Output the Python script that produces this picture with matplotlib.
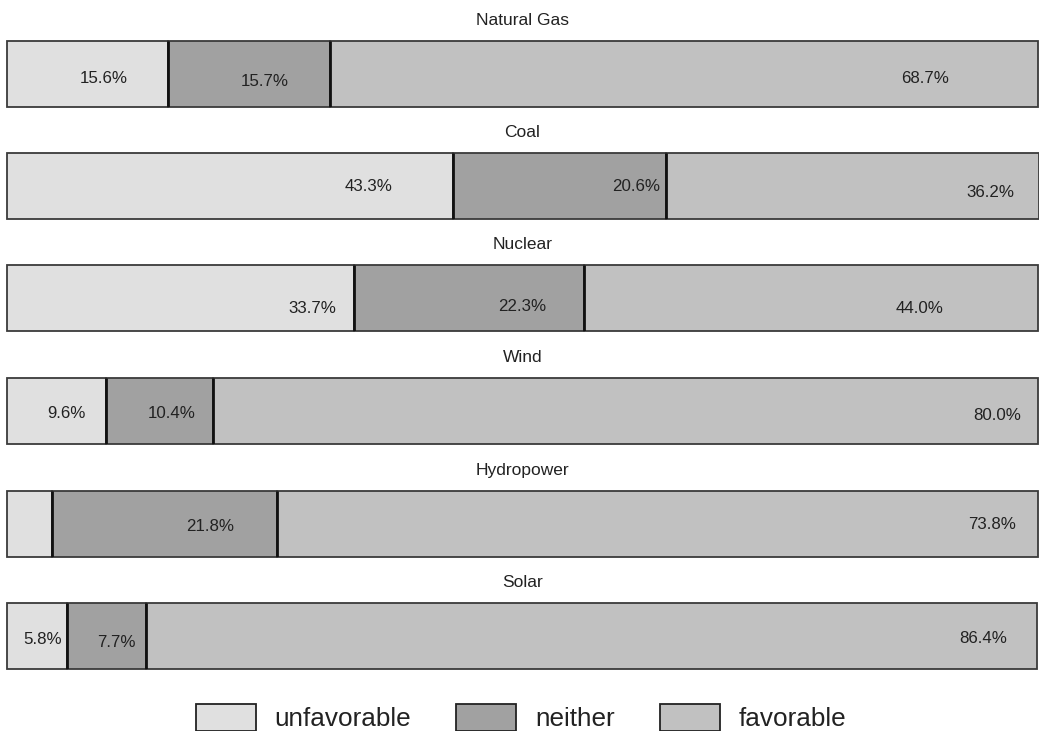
import matplotlib
matplotlib.use("Agg")
import matplotlib.pyplot as plt
from matplotlib.patches import Patch

plt.rcParams['font.family'] = ['Liberation Sans', 'DejaVu Sans']

# Survey results: share of respondents per energy source
sources = ["Natural Gas", "Coal", "Nuclear", "Wind", "Hydropower", "Solar"]
responses = ["unfavorable", "neither", "favorable"]
unfavorable = [15.6, 43.3, 33.7, 9.6, 4.4, 5.8]
neither = [15.7, 20.6, 22.3, 10.4, 21.8, 7.7]
favorable = [68.7, 36.2, 44.0, 80.0, 73.8, 86.4]

colors = {"unfavorable": "#e0e0e0", "neither": "#a1a1a1", "favorable": "#c1c1c1"}

# where each value label sits inside its segment (fraction of segment width)
label_xfrac = [
    [0.60, 0.60, 0.84],
    [0.81, 0.86, 0.87],
    [0.88, 0.73, 0.74],
    [0.60, 0.61, 0.95],
    [0.60, 0.70, 0.94],
    [0.60, 0.62, 0.94],
]
# downward nudge of each label, in bar heights
label_ydrop = [
    [0.05, 0.09, 0.05],
    [-0.015, -0.015, 0.075],
    [0.13, 0.11, 0.13],
    [0.015, 0.015, 0.045],
    [0.0, 0.015, -0.015],
    [0.03, 0.075, 0.015],
]

W, H = 1039, 731
fig = plt.figure(figsize=(W / 100, H / 100), dpi=100)

bar_tops = [41, 153, 265, 378, 491, 603]
bar_h = 66
left_px, right_px = 7, 1038

for i, src in enumerate(sources):
    ax = fig.add_axes([left_px / W, 1 - (bar_tops[i] + bar_h) / H,
                       (right_px - left_px) / W, bar_h / H])
    vals = [unfavorable[i], neither[i], favorable[i]]
    start = 0.0
    bounds = []
    for j, (resp, v) in enumerate(zip(responses, vals)):
        ax.barh(0, v, left=start, height=1.0, color=colors[resp],
                edgecolor="#3a3a3a", linewidth=1.3, clip_on=False)
        if v >= 5:
            ax.text(start + v * label_xfrac[i][j], -label_ydrop[i][j] - 0.025,
                    f"{v:.1f}%", ha="center", va="center",
                    fontsize=12.2, color="#222222")
        start += v
        bounds.append(start)
    ax.vlines(bounds[:-1], -0.5, 0.5, color="#111111", linewidth=2.0)
    ax.set_xlim(0, 100)
    ax.set_ylim(-0.5, 0.5)
    ax.axis("off")
    ax.set_title(src, fontsize=12.5, color="#222222", pad=11.5)

handles = [Patch(facecolor=colors[r], edgecolor="#222222", linewidth=1.3, label=r)
           for r in responses]
fig.legend(handles=handles, ncol=3, loc="center", bbox_to_anchor=(0.5015, 0.0185),
           frameon=False, fontsize=18.8, handlelength=2.3, handleheight=1.23,
           handletextpad=0.73, columnspacing=1.72, labelcolor="#222222")

fig.savefig("out.png", dpi=100, facecolor="white")
